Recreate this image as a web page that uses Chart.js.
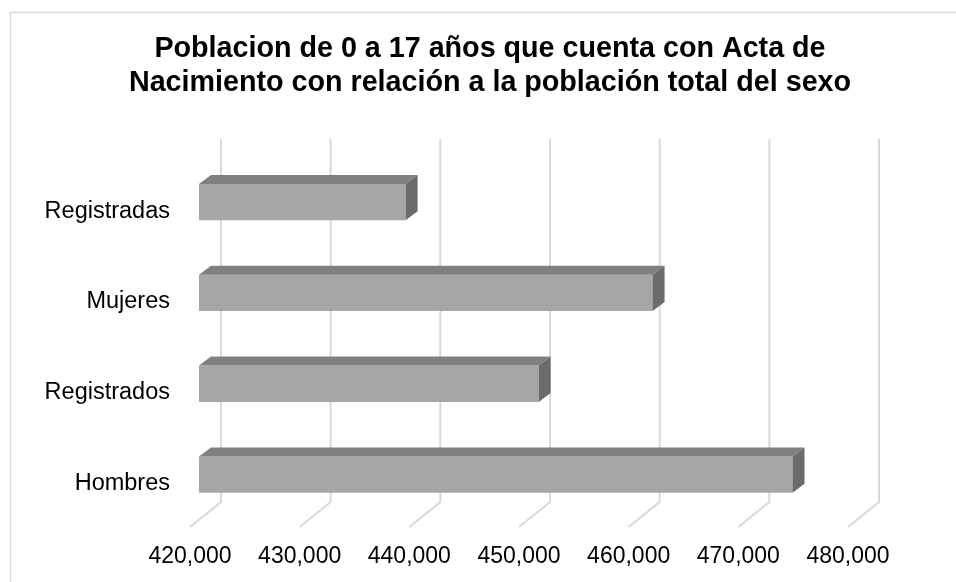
<!DOCTYPE html>
<html>
<head>
<meta charset="utf-8">
<script src="https://cdn.jsdelivr.net/npm/chart.js@4/dist/chart.umd.min.js"></script>
<style>
  html, body { margin: 0; padding: 0; background: #fff; }
  #wrap { width: 956px; height: 582px; }
</style>
</head>
<body>
<div id="wrap"><canvas id="myChart" width="956" height="582"></canvas></div>
<script>
// Data
const categories = ["Registradas", "Mujeres", "Registrados", "Hombres"];
const poblacion = [438840, 461360, 450970, 474120];
const tickValues = [420000, 430000, 440000, 450000, 460000, 470000, 480000];

// 3D look, offsets in pixels
const DEPTH_X = 12, DEPTH_Y = 9;   // depth of one bar
const BACK_X = 22, FRONT_X = -9;   // back wall / front plane from the bar plane
const GRID_TOP = 139, GRID_FLOOR = 502, GRID_FRONT = 527;

// white background and the light frame of the chart box
const framePlugin = {
  id: "frame",
  beforeDraw(chart) {
    const c = chart.ctx;
    c.save();
    c.fillStyle = "#fff";
    c.fillRect(0, 0, chart.width, chart.height);
    c.strokeStyle = "#d9d9d9";
    c.lineWidth = 1.5;
    c.strokeRect(10.5, 12.5, 1200, 1200);
    c.restore();
  }
};

// slanted gridlines like an Excel 3D chart
const gridPlugin = {
  id: "grid3d",
  beforeDatasetsDraw(chart) {
    const c = chart.ctx;
    const x = chart.scales.x;
    c.save();
    c.strokeStyle = "#d9d9d9";
    c.lineWidth = 2;
    tickValues.forEach(v => {
      const px = x.getPixelForValue(v);
      c.beginPath();
      c.moveTo(px + BACK_X, GRID_TOP);
      c.lineTo(px + BACK_X, GRID_FLOOR);
      c.lineTo(px + FRONT_X, GRID_FRONT);
      c.stroke();
    });
    c.restore();
  }
};

// top and side faces of each bar
const barsPlugin = {
  id: "bars3d",
  afterDatasetsDraw(chart) {
    const c = chart.ctx;
    const xs = chart.scales.x;
    const base = xs.getPixelForValue(xs.min);
    chart.getDatasetMeta(0).data.forEach(bar => {
      const p = bar.getProps(["x", "y", "height"], true);
      const top = p.y - p.height / 2, bot = p.y + p.height / 2;
      c.save();
      c.fillStyle = "#808080";
      c.beginPath();
      c.moveTo(base, top);
      c.lineTo(p.x, top);
      c.lineTo(p.x + DEPTH_X, top - DEPTH_Y);
      c.lineTo(base + DEPTH_X, top - DEPTH_Y);
      c.closePath();
      c.fill();
      c.fillStyle = "#6b6b6b";
      c.beginPath();
      c.moveTo(p.x, top);
      c.lineTo(p.x + DEPTH_X, top - DEPTH_Y);
      c.lineTo(p.x + DEPTH_X, bot - DEPTH_Y);
      c.lineTo(p.x, bot);
      c.closePath();
      c.fill();
      c.restore();
    });
  }
};

const font = "'Liberation Sans', Arial, sans-serif";

let ctx = document.getElementById("myChart").getContext("2d");

var data = {
  labels: categories,
  datasets: [
    {
      label: "Población",
      data: poblacion,
      backgroundColor: "#a6a6a6",
      borderWidth: 0,
      categoryPercentage: 1,
      barPercentage: 0.4,
    },
  ],
};

var options = {
  indexAxis: "y",
  responsive: false,
  animation: false,
  layout: { padding: { left: 24, right: 0, top: 0, bottom: 0 } },
  plugins: {
    legend: { display: false },
    tooltip: { enabled: false },
    title: {
      display: true,
      text: [
        "Poblacion de 0 a 17 años que cuenta con Acta de",
        "Nacimiento con relación a la población total del sexo",
      ],
      color: "#000",
      font: { family: font, size: 28.7, weight: "bold", lineHeight: 1.18 },
      padding: { top: 32, bottom: 57 },
    },
  },
  scales: {
    x: {
      min: 420000,
      max: 480000,
      beginAtZero: false,
      grid: { display: false, drawTicks: false },
      border: { display: false },
      afterBuildTicks: s => { s.ticks = tickValues.map(v => ({ value: v })); },
      afterFit: s => { s.height = 62; },
      ticks: {
        color: "#000",
        font: { family: font, size: 23 },
        padding: 23,
        labelOffset: FRONT_X,
        maxRotation: 0,
        callback: v => v.toLocaleString("en-US"),
      },
    },
    y: {
      grid: { display: false, drawTicks: false },
      border: { display: false },
      afterFit: s => { s.width = 175; },
      ticks: {
        color: "#000",
        font: { family: font, size: 23.5 },
        padding: 29,
        labelOffset: 9,
      },
    },
    // empty right-hand space of the plot
    yRight: {
      type: "category",
      position: "right",
      grid: { display: false, drawTicks: false },
      border: { display: false },
      ticks: { display: false },
      afterFit: s => { s.width = 99; },
    },
  },
};

var myChart = new Chart(ctx, {
  type: "bar",
  data: data,
  options: options,
  plugins: [framePlugin, gridPlugin, barsPlugin],
});
</script>
</body>
</html>
